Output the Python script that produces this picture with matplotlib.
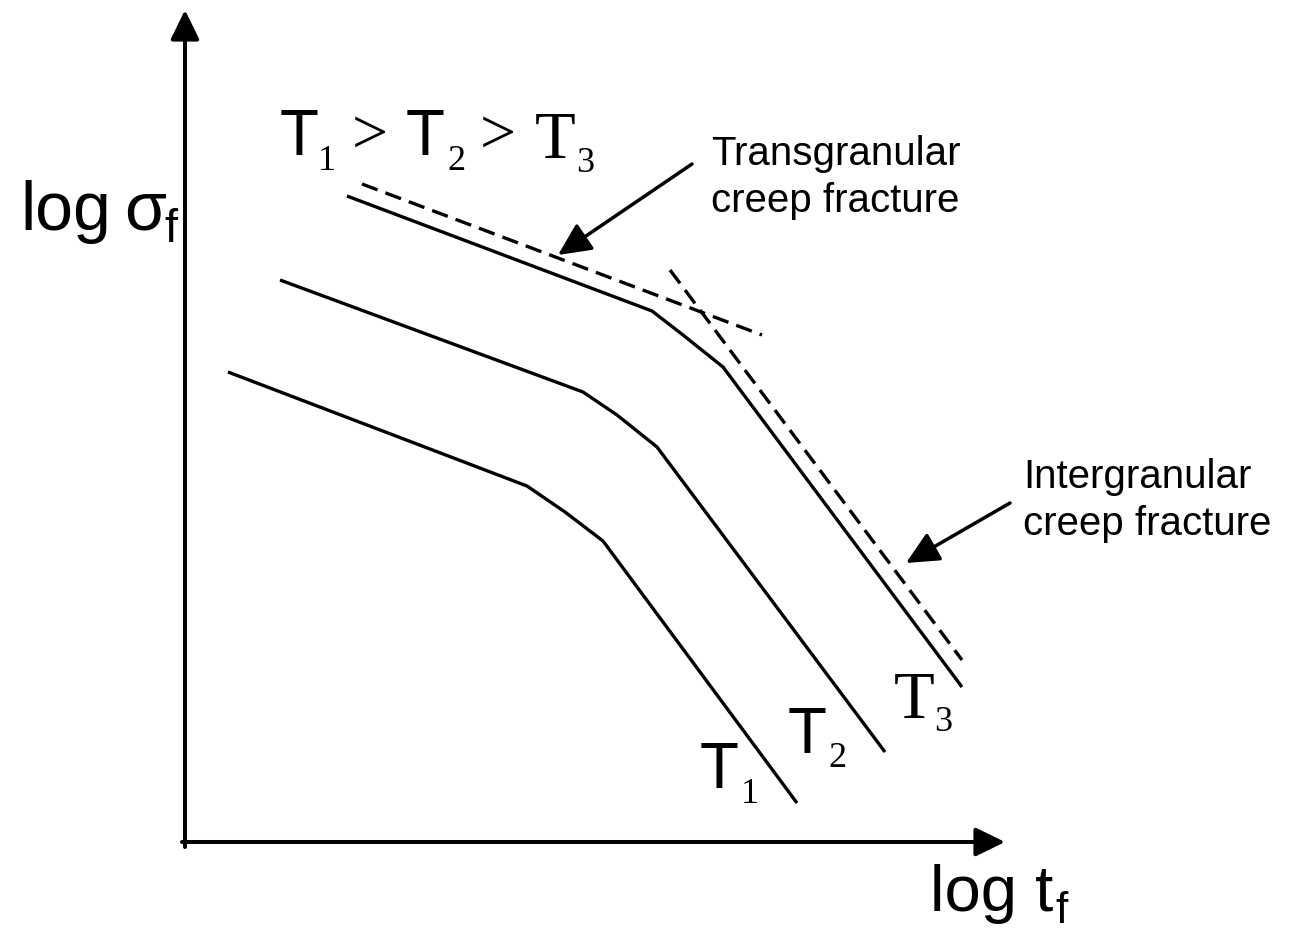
import matplotlib.pyplot as plt

SANS = "Liberation Sans"
SERIF = "Liberation Serif"

# stress-rupture curves, x = log t_f, y = log sigma_f (schematic units)
t1_x = [228, 527, 565, 603, 797]
t1_y = [559, 445, 419, 390, 128]
t2_x = [280, 583, 617, 657, 885]
t2_y = [651, 539, 516, 484, 179]
t3_x = [347, 652, 683, 723, 962]
t3_y = [735, 620, 596, 564, 244]

# asymptotes for the two fracture regimes
trans_x = [362, 762]
trans_y = [747, 596]
inter_x = [670, 962]
inter_y = [661, 271]

# pointer arrows: (tail, tip)
trans_arrow = ((692, 767), (558, 676))
inter_arrow = ((1010, 428), (906, 368))

# axis origin and ends
origin = (185, 89)
x_end = 1005
y_end = 921

fig = plt.figure(figsize=(13.16, 9.31), dpi=100)
ax = fig.add_axes([0, 0, 1, 1])
ax.set_xlim(0, 1316)
ax.set_ylim(0, 931)
ax.axis("off")

head = "-|>,head_length=0.45,head_width=0.22"

# axes with arrow heads
ax.annotate("", xy=(origin[0], y_end), xytext=(origin[0], origin[1] - 5),
            arrowprops=dict(arrowstyle=head, lw=2.9, color="black",
                            mutation_scale=40, shrinkA=0, shrinkB=0))
ax.annotate("", xy=(x_end, origin[1]), xytext=(origin[0] - 3, origin[1]),
            arrowprops=dict(arrowstyle=head, lw=2.9, color="black",
                            mutation_scale=40, shrinkA=0, shrinkB=0))

for xs, ys in [(t1_x, t1_y), (t2_x, t2_y), (t3_x, t3_y)]:
    ax.plot(xs, ys, color="black", lw=2.4, solid_capstyle="butt")

for xs, ys in [(trans_x, trans_y), (inter_x, inter_y)]:
    ax.plot(xs, ys, color="black", lw=2.4, dashes=(5, 2.5))

for tail, tip in [trans_arrow, inter_arrow]:
    ax.annotate("", xy=tip, xytext=tail,
                arrowprops=dict(arrowstyle="-|>,head_length=0.5,head_width=0.24",
                                lw=2.5, color="black",
                                mutation_scale=40, shrinkA=0, shrinkB=0))

# axis titles
ax.text(20, 701, "log", family=SANS, fontsize=49, va="baseline")
ax.text(124, 701, "σ", family=SANS, fontsize=49, va="baseline")
ax.text(164, 689, "f", family=SANS, fontsize=34, va="baseline")
ax.text(930, 20, "log t", family=SANS, fontsize=47, va="baseline")
ax.text(1055, 8, "f", family=SANS, fontsize=32, va="baseline")

# temperature ordering
ax.text(280, 776, "T", family=SANS, fontsize=46, va="baseline")
ax.text(318, 761, "1", family=SERIF, fontsize=26, va="baseline")
ax.text(352, 778, ">", family=SERIF, fontsize=46, va="baseline")
ax.text(406, 776, "T", family=SANS, fontsize=46, va="baseline")
ax.text(447, 761, "2", family=SERIF, fontsize=26, va="baseline")
ax.text(480, 778, ">", family=SERIF, fontsize=46, va="baseline")
ax.text(535, 773, "T", family=SERIF, fontsize=48, va="baseline")
ax.text(576, 759, "3", family=SERIF, fontsize=26, va="baseline")

# curve labels
ax.text(700, 143, "T", family=SANS, fontsize=46, va="baseline")
ax.text(741, 128, "1", family=SERIF, fontsize=26, va="baseline")
ax.text(788, 178, "T", family=SANS, fontsize=46, va="baseline")
ax.text(828, 164, "2", family=SERIF, fontsize=26, va="baseline")
ax.text(894, 213, "T", family=SERIF, fontsize=48, va="baseline")
ax.text(934, 200, "3", family=SERIF, fontsize=26, va="baseline")

# regime annotations (baseline refers to the last line)
ax.text(711, 719, "Transgranular\ncreep fracture", family=SANS, fontsize=29,
        va="baseline", linespacing=1.3)
ax.text(1023, 396, "Intergranular\ncreep fracture", family=SANS, fontsize=29,
        va="baseline", linespacing=1.3)

fig.savefig("out.png", dpi=100)
